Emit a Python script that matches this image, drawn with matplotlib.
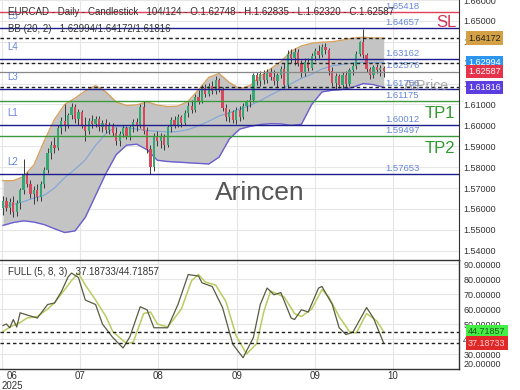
import matplotlib
matplotlib.use("Agg")
import matplotlib.pyplot as plt
import numpy as np

plt.rcParams['font.family'] = ['Liberation Sans', 'DejaVu Sans']

# ---------------- data ----------------
opens = [1.5605,1.5640,1.5605,1.5635,1.5585,1.5630,1.5690,1.5760,1.5720,1.5670,
         1.5690,1.5655,1.5720,1.5785,1.5870,1.5905,1.5890,1.5985,1.6020,1.6000,
         1.6050,1.6090,1.6030,1.6065,1.6000,1.5975,1.6020,1.6005,1.6030,1.5990,
         1.6010,1.5980,1.6000,1.5965,1.5925,1.5960,1.5985,1.5950,1.5990,1.6015,
         1.5995,1.6090,1.5975,1.5885,1.5800,1.5950,1.5925,1.5945,1.5905,1.5990,
         1.6025,1.6000,1.6040,1.6010,1.6060,1.6095,1.6075,1.6135,1.6115,1.6180,
         1.6150,1.6190,1.6165,1.6215,1.6175,1.6085,1.6040,1.6065,1.6025,1.6075,
         1.6040,1.6095,1.6110,1.6120,1.6240,1.6210,1.6245,1.6215,1.6255,1.6230,
         1.6210,1.6240,1.6270,1.6195,1.6340,1.6320,1.6350,1.6300,1.6250,1.6305,
         1.6275,1.6330,1.6355,1.6335,1.6375,1.6360,1.6260,1.6205,1.6235,1.6195,
         1.6240,1.6200,1.6265,1.6285,1.6340,1.6400,1.6335,1.6270,1.6240,1.6280,
         1.6265,1.62748]
highs = [1.5660,1.5655,1.5650,1.5660,1.5645,1.5700,1.5840,1.5775,1.5740,1.5710,
         1.5720,1.5735,1.5800,1.5890,1.5925,1.5945,1.6000,1.6040,1.6100,1.6060,
         1.6105,1.6100,1.6080,1.6075,1.6040,1.6035,1.6050,1.6045,1.6045,1.6025,
         1.6030,1.6015,1.6010,1.5990,1.5975,1.6000,1.5995,1.6000,1.6030,1.6035,
         1.6100,1.6115,1.5990,1.5905,1.5965,1.5975,1.5965,1.5960,1.6000,1.6040,
         1.6045,1.6055,1.6050,1.6075,1.6110,1.6120,1.6150,1.6170,1.6195,1.6200,
         1.6205,1.6210,1.6235,1.6225,1.6185,1.6100,1.6080,1.6075,1.6090,1.6095,
         1.6105,1.6120,1.6150,1.6250,1.6255,1.6260,1.6265,1.6270,1.6275,1.6265,
         1.6250,1.6285,1.6300,1.6360,1.6365,1.6370,1.6365,1.6315,1.6320,1.6320,
         1.6345,1.6370,1.6385,1.6390,1.6395,1.6370,1.6280,1.6250,1.6245,1.6255,
         1.6260,1.6275,1.6300,1.6355,1.6405,1.6460,1.6345,1.6280,1.6290,1.6295,
         1.6290,1.62835]
lows = [1.5570,1.5590,1.5575,1.5560,1.5565,1.5600,1.5670,1.5705,1.5650,1.5625,
        1.5640,1.5640,1.5700,1.5770,1.5840,1.5870,1.5880,1.5960,1.5975,1.5985,
        1.6030,1.6010,1.6000,1.5985,1.5925,1.5960,1.5985,1.5990,1.5975,1.5970,
        1.5965,1.5960,1.5950,1.5905,1.5900,1.5945,1.5935,1.5930,1.5970,1.5975,
        1.5985,1.5960,1.5870,1.5768,1.5780,1.5900,1.5890,1.5880,1.5895,1.5970,
        1.5985,1.5990,1.5990,1.6000,1.6040,1.6060,1.6065,1.6100,1.6105,1.6135,
        1.6140,1.6150,1.6150,1.6160,1.6070,1.6020,1.6015,1.6010,1.6005,1.6020,
        1.6030,1.6070,1.6090,1.6110,1.6195,1.6190,1.6200,1.6205,1.6215,1.6195,
        1.6185,1.6225,1.6180,1.6180,1.6300,1.6290,1.6285,1.6230,1.6235,1.6260,
        1.6265,1.6310,1.6320,1.6325,1.6340,1.6240,1.6190,1.6175,1.6180,1.6180,
        1.6185,1.6190,1.6240,1.6270,1.6330,1.6320,1.6255,1.6220,1.6225,1.6250,
        1.6235,1.62320]
closes = [1.5640,1.5605,1.5635,1.5585,1.5630,1.5690,1.5760,1.5720,1.5670,1.5690,
          1.5655,1.5720,1.5785,1.5870,1.5905,1.5890,1.5985,1.6020,1.6000,1.6050,
          1.6090,1.6030,1.6065,1.6000,1.5975,1.6020,1.6005,1.6030,1.5990,1.6010,
          1.5980,1.6000,1.5965,1.5925,1.5960,1.5985,1.5950,1.5990,1.6015,1.5995,
          1.6090,1.5975,1.5885,1.5800,1.5950,1.5925,1.5945,1.5905,1.5990,1.6025,
          1.6000,1.6040,1.6010,1.6060,1.6095,1.6075,1.6135,1.6115,1.6180,1.6150,
          1.6190,1.6165,1.6215,1.6175,1.6085,1.6040,1.6065,1.6025,1.6075,1.6040,
          1.6095,1.6110,1.6120,1.6240,1.6210,1.6245,1.6215,1.6255,1.6230,1.6210,
          1.6240,1.6270,1.6195,1.6340,1.6320,1.6350,1.6300,1.6250,1.6305,1.6275,
          1.6330,1.6355,1.6335,1.6375,1.6360,1.6260,1.6205,1.6235,1.6195,1.6240,
          1.6200,1.6265,1.6285,1.6340,1.6400,1.6335,1.6270,1.6240,1.6280,1.6265,
          1.62748,1.62587]

bb_idx = [0,3,6,9,12,15,18,21,24,27,30,33,36,39,42,45,48,51,54,57,60,63,66,69,
          72,75,78,81,84,87,90,93,96,99,102,105,108,111]
bb_upper = [1.5735,1.5735,1.5755,1.5810,1.5924,1.6028,1.6100,1.6130,1.6165,1.6190,
            1.6160,1.6112,1.6095,1.6098,1.6112,1.6097,1.6090,1.6092,1.6115,1.6170,
            1.6230,1.6248,1.6205,1.6175,1.6190,1.6235,1.6270,1.6305,1.6355,1.6380,
            1.6393,1.6398,1.6400,1.6408,1.6417,1.6422,1.6418,1.64172]
bb_lower = [1.5521,1.5535,1.5543,1.5537,1.5525,1.5505,1.5487,1.5495,1.5560,1.5665,
            1.5770,1.5860,1.5905,1.5910,1.5883,1.5833,1.5827,1.5824,1.5821,1.5818,
            1.5815,1.5848,1.5935,1.5982,1.5995,1.6004,1.6008,1.6007,1.6000,1.6005,
            1.6100,1.6160,1.6168,1.6172,1.6182,1.6200,1.6195,1.61816]
bb_mid = [1.5612,1.5622,1.5635,1.5652,1.5665,1.5700,1.5750,1.5790,1.5835,1.5905,
          1.5960,1.5995,1.5990,1.5982,1.5975,1.5972,1.5968,1.5970,1.5980,1.5998,
          1.6020,1.6045,1.6060,1.6078,1.6095,1.6118,1.6145,1.6170,1.6200,1.6225,
          1.6245,1.6270,1.6285,1.6292,1.6298,1.6302,1.6300,1.62994]

k_idx = [0,1,2,3,4,5,7,10,13,15,17,19,20,22,24,27,29,32,35,37,40,42,44,48,51,54,57,
         58,61,64,67,70,73,75,77,79,81,84,85,87,89,92,93,96,98,100,102,106,108,111]
k_val = [49,50,47.5,53,48,57.5,56,54,63,64,71.5,81.5,84,81,66,63,50,41,34,41.5,61.5,
         59.5,47.5,47.5,63,83,82,77.5,75,61,36.5,27.5,41,63,74,69.5,71,54,53,59.5,58,
         74,75,63,47.5,43,44.5,61,54,37.18733]
d_idx = [0,2,5,7,10,13,15,17,20,22,24,27,30,32,36,38,41,43,45,48,52,55,57,59,62,65,
         68,71,74,76,78,80,82,85,87,90,93,95,98,101,103,106,109,111]
d_val = [45,48,51,54,55,60,64,70,79,84,76,66,55,45,37,38,57,58,50,48,60,79,83,78,76,
         65,42,30,37,58,72,70,68,57,55,60,73,68,55,45,44,57,52,44.71857]

# horizontal levels
level_names = ['L5', 'L4', 'L3', 'L1', 'L2']
level_vals = [1.64657, 1.63162, 1.61756, 1.60012, 1.57653]
sl_val = 1.65418
tp_vals = [1.61175, 1.59497]
atprice_val = 1.62576

price_ticks = [1.54, 1.55, 1.56, 1.57, 1.58, 1.59, 1.60, 1.61, 1.62, 1.63, 1.64, 1.65, 1.66]
stoch_ticks = [20, 30, 40, 50, 60, 70, 80, 90]
month_pos = [-0.4, 22.4, 45.3, 68.1, 90.9, 113.6]
month_lbl = ['06\n2025', '07', '08', '09', '09', '10']

# ---------------- figure ----------------
W, H = 520, 390
fig = plt.figure(figsize=(W/100, H/100), dpi=100)
fig.patch.set_facecolor('white')
axw = 459 / W
ax = fig.add_axes([0, 1 - 260/H, axw, 260/H])
ax2 = fig.add_axes([0, 1 - 369/H, axw, 109/H])

pxbar = 3.43
xl = (-3/pxbar, (459-3)/pxbar)
for a in (ax, ax2):
    a.set_xlim(*xl)
    a.set_xticks(month_pos)
    a.grid(True, color='#e6e6e6', lw=0.8)
    a.set_axisbelow(True)
    a.yaxis.tick_right()
    a.tick_params(axis='both', length=0, labelsize=6.5, colors='#333333', pad=3)
    a.spines['left'].set_visible(False)

ax.set_ylim(1.53555, 1.65877)
ax.set_yticks(price_ticks)
ax.set_yticklabels(['%.5f' % t for t in price_ticks])
ax.tick_params(axis='x', labelbottom=False)
ax.spines['top'].set_visible(False)
ax.spines['bottom'].set_visible(False)

# Bollinger bands
ax.fill_between(bb_idx, bb_lower, bb_upper, color='#c4c4c4', zorder=1, lw=0)
ax.plot(bb_idx, bb_upper, color='#d6a060', lw=1.0, zorder=2)
ax.plot(bb_idx, bb_lower, color='#6a5fd0', lw=1.0, zorder=2)
ax.plot(bb_idx, bb_mid, color='#7ea6d8', lw=0.8, zorder=2)

# candles
xs = np.arange(len(closes))
ax.vlines(xs, lows, highs, color='#3a3a3a', lw=0.7, zorder=3)
for i in range(len(closes)):
    o, c = opens[i], closes[i]
    col = '#33a873' if c >= o else '#d9475c'
    ax.bar(i, abs(c - o) if abs(c - o) > 0.0001 else 0.0001, bottom=min(o, c),
           width=0.65, color=col, lw=0, zorder=4)

# horizontal lines
lab_col = '#6688d8'
ax.axhline(sl_val, color='#e0405a', lw=1.0, zorder=5)
for v in level_vals:
    ax.axhline(v, color='#1c1c8c', lw=1.0, zorder=5)
for v in tp_vals:
    ax.axhline(v, color='#3c9a3c', lw=1.0, zorder=5)
ax.axhline(atprice_val, color='#888888', lw=0.9, zorder=5)
for v in [bb_upper[-1], bb_mid[-1], bb_lower[-1]]:
    ax.axhline(v, color='#222222', lw=1.0, ls=(0, (2.5, 2)), zorder=5)

ytr = ax.get_yaxis_transform()
for v in [sl_val] + level_vals + tp_vals + [atprice_val]:
    ax.annotate('%.5f' % v, (385/459, v), xycoords=ytr, xytext=(0, 0.8),
                textcoords='offset points', fontsize=6.8, color=lab_col,
                ha='left', va='bottom', zorder=6)
for name, v in zip(level_names, level_vals):
    ax.annotate(name, (7/459, v), xycoords=ytr, xytext=(0, 5),
                textcoords='offset points', fontsize=7, color=lab_col,
                ha='left', va='bottom', zorder=6)

ax.text(446/459, 1.6493, 'SL', transform=ytr, fontsize=12, color='#d63050',
        ha='center', va='center', zorder=6)
ax.text(440/459, 1.6057, 'TP1', transform=ytr, fontsize=12, color='#2e9a2e',
        ha='center', va='center', zorder=6)
ax.text(440/459, 1.5891, 'TP2', transform=ytr, fontsize=12, color='#2e9a2e',
        ha='center', va='center', zorder=6)
ax.text(426/459, 1.6190, 'AtPrice', transform=ytr, fontsize=10, color='#888888',
        alpha=0.7, ha='center', va='center', zorder=6)
ax.text(260/459, 1.5678, 'Arincen', transform=ytr, fontsize=19, color='#555555',
        ha='center', va='center', zorder=6)

ax.text(8/459, 1 - 12/260, 'EURCAD - Daily - Candlestick   104/124 - O.1.62748 - H.1.62835 - L.1.62320 - C.1.62587',
        transform=ax.transAxes, fontsize=7, color='#333333', ha='left', va='center', zorder=7)
ax.text(8/459, 1 - 29/260, 'BB (20, 2)   1.62994/1.64172/1.61816',
        transform=ax.transAxes, fontsize=7, color='#333333', ha='left', va='center', zorder=7)

# right-side value boxes (price)
boxes = [(bb_upper[-1], '#d4a045', '#222222'),
         (bb_mid[-1], '#2e95ee', 'white'),
         (closes[-1], '#e5334b', 'white'),
         (bb_lower[-1], '#5a3ee0', 'white')]
for v, fc, tc in boxes:
    ax.text(1 + 9/459, v, '%.5f' % v, transform=ytr, fontsize=6.5, color=tc,
            ha='left', va='center', clip_on=False, zorder=10,
            bbox=dict(boxstyle='square,pad=0.25', fc=fc, ec='none'))

# stochastic
ax2.set_ylim(20, 92.7)
ax2.set_yticks(stoch_ticks)
ax2.set_yticklabels(['%.5f' % t for t in stoch_ticks])
ax2.get_yticklabels()[0].set_va('bottom')
ax2.set_xticklabels(month_lbl)
ax2.tick_params(axis='x', labelsize=7, pad=1.5)
lbl0 = ax2.get_xticklabels()[0]
lbl0.set_ha('left')
lbl0.set_multialignment('center')
lbl0.set_linespacing(0.95)
for s in ['top', 'right', 'bottom']:
    ax2.spines[s].set_color('#333333')
    ax2.spines[s].set_linewidth(1.0)
ax.spines['right'].set_color('#333333')

ax2.plot(d_idx, d_val, color='#b8cc60', lw=1.1, zorder=3)
ax2.plot(k_idx, k_val, color='#5a5a42', lw=0.9, zorder=4)
ax2.axhline(k_val[-1], color='#222222', lw=1.0, ls=(0, (2.5, 2)), zorder=5)
ax2.axhline(d_val[-1], color='#222222', lw=1.0, ls=(0, (2.5, 2)), zorder=5)
ax2.text(8/459, 1 - 12/109, 'FULL (5, 8, 3)   37.18733/44.71857',
         transform=ax2.transAxes, fontsize=7, color='#333333', ha='left', va='center', zorder=7)

ytr2 = ax2.get_yaxis_transform()
ax2.text(1 + 9/459, d_val[-1], '%.5f' % d_val[-1], transform=ytr2, fontsize=6.5,
         color='#1a5a1a', ha='left', va='center', clip_on=False, zorder=10,
         bbox=dict(boxstyle='square,pad=0.25', fc='#44ee44', ec='none'))
ax2.text(1 + 9/459, k_val[-1], '%.5f' % k_val[-1], transform=ytr2, fontsize=6.5,
         color='#ffd0d0', ha='left', va='center', clip_on=False, zorder=10,
         bbox=dict(boxstyle='square,pad=0.25', fc='#e02828', ec='none'))

fig.savefig('out.png', dpi=100, facecolor='white')
